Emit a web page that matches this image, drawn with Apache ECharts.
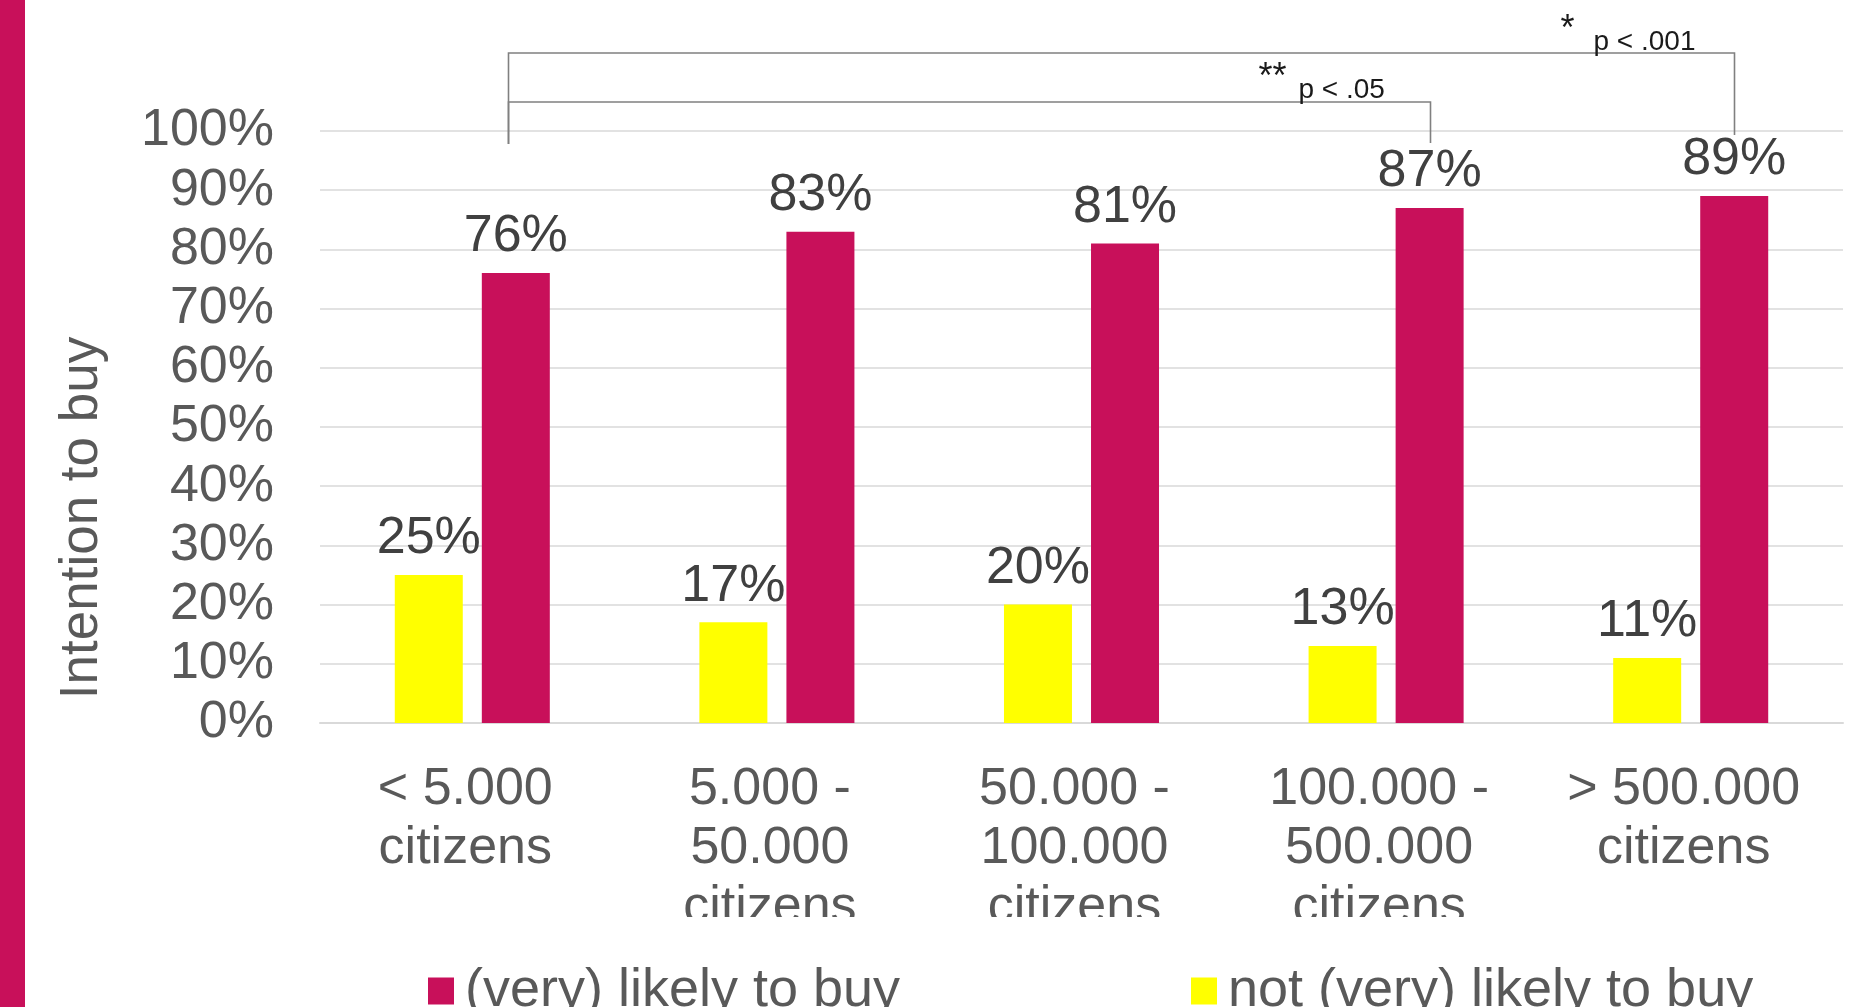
<!DOCTYPE html>
<html>
<head>
<meta charset="utf-8">
<title>Intention to buy by municipality size</title>
<script src="https://cdn.jsdelivr.net/npm/echarts@6/dist/echarts.min.js"></script>
<style>
  html, body { margin: 0; padding: 0; background: #ffffff; }
  #chart { width: 1873px; height: 1007px; }
</style>
</head>
<body>
<div id="chart"></div>
<script>
// Municipality size classes
const categories = [
  '< 5.000\ncitizens',
  '5.000 -\n50.000\ncitizens',
  '50.000 -\n100.000\ncitizens',
  '100.000 -\n500.000\ncitizens',
  '> 500.000\ncitizens'
];
// Share of respondents (%)
const likelyToBuy = [76, 83, 81, 87, 89];
const notLikelyToBuy = [25, 17, 20, 13, 11];
const seriesNames = ['not (very) likely to buy', '(very) likely to buy'];

// Y axis ticks
const yMin = 0;
const yMax = 100;
const yStep = 10;

// Significance brackets: [from category, to category, stars, p-value text]
const brackets = [
  { from: 0, to: 4, stars: '*', p: 'p < .001' },
  { from: 0, to: 3, stars: '**', p: 'p < .05' }
];

const MAGENTA = '#C8105A';
const YELLOW = '#FFFF00';
const FONT = '"Liberation Sans", Arial, sans-serif';

const chart = echarts.init(document.getElementById('chart'), null, { renderer: 'canvas' });

const barLabel = {
  show: true,
  position: 'top',
  distance: 10,
  formatter: '{c}%',
  fontFamily: FONT,
  fontSize: 52,
  color: '#404040'
};

const legendText = { fontFamily: FONT, fontSize: 54, color: '#595959', lineHeight: 54, padding: [0, 0, 0, 6] };

chart.setOption({
  animation: false,
  backgroundColor: '#ffffff',
  textStyle: { fontFamily: FONT },
  grid: { left: 320, right: 30, top: 131, bottom: 284, containLabel: false },
  legend: [
    {
      data: [seriesNames[1]],
      left: 428, top: 964, padding: 0,
      itemWidth: 26, itemHeight: 27,
      icon: 'rect',
      textStyle: legendText
    },
    {
      data: [seriesNames[0]],
      left: 1191, top: 964, padding: 0,
      itemWidth: 26, itemHeight: 27,
      icon: 'rect',
      textStyle: legendText
    }
  ],
  xAxis: {
    type: 'category',
    data: categories,
    axisLine: { show: true, lineStyle: { color: '#D9D9D9', width: 2 } },
    axisTick: { show: false },
    axisLabel: {
      interval: 0,
      margin: 37,
      fontFamily: FONT,
      fontSize: 52,
      lineHeight: 59,
      color: '#595959',
      padding: [0, 14, 0, 0]
    }
  },
  yAxis: {
    type: 'value',
    min: yMin,
    max: yMax,
    interval: yStep,
    axisLine: { show: false },
    axisTick: { show: false },
    splitLine: { lineStyle: { color: '#D9D9D9', width: 1.5 } },
    axisLabel: {
      margin: 46,
      formatter: '{value}%',
      fontFamily: FONT,
      fontSize: 52,
      color: '#595959',
      padding: [8, 0, 0, 0]
    }
  },
  series: [
    {
      name: seriesNames[0],
      type: 'bar',
      data: notLikelyToBuy,
      barWidth: 68,
      barGap: '28%',
      itemStyle: { color: YELLOW },
      label: barLabel
    },
    {
      name: seriesNames[1],
      type: 'bar',
      data: likelyToBuy,
      barWidth: 68,
      barGap: '28%',
      itemStyle: { color: MAGENTA },
      label: barLabel
    }
  ]
});

// Bracket anchors come from the laid-out "(very) likely to buy" bars
const likelyData = chart.getModel().getSeriesByIndex(1).getData();
function barCenter(i) {
  const l = likelyData.getItemLayout(i);
  return l.x + l.width / 2;
}

const lineStyle = { stroke: '#808080', lineWidth: 1.6 };
const elements = [
  // Accent stripe on the left edge
  { type: 'rect', z: 100, shape: { x: 0, y: 0, width: 25, height: 1007 }, style: { fill: MAGENTA } },
  // Y axis title
  {
    type: 'text', z: 100, x: 82, y: 518, rotation: Math.PI / 2,
    style: { text: 'Intention to buy', fontFamily: FONT, fontSize: 53, fill: '#595959', align: 'center', verticalAlign: 'middle' }
  },
  // Cut-off band below the category labels
  { type: 'rect', z: 100, shape: { x: 26, y: 917, width: 1847, height: 44 }, style: { fill: '#ffffff' } }
];

const bracketGeom = [
  { top: 53, leftBottom: 144, rightBottom: 135, pDx: -141, pBase: 56, starDx: -174, starTop: 12 },
  { top: 102, leftBottom: 144, rightBottom: 143, pDx: -132, pBase: 104, starDx: -172, starTop: 60 }
];

brackets.forEach(function (b, k) {
  const g = bracketGeom[k];
  const x1 = Math.round(barCenter(b.from)) - 8 + 0.5;
  const x2 = Math.round(barCenter(b.to)) + 0.5;
  elements.push({
    type: 'polyline', z: 100,
    shape: { points: [[x1, g.leftBottom], [x1, g.top], [x2, g.top], [x2, g.rightBottom]] },
    style: Object.assign({ fill: null }, lineStyle)
  });
  elements.push({
    type: 'text', z: 100, x: x2 + g.pDx, y: g.pBase,
    style: { text: b.p, fontFamily: FONT, fontSize: 28, fill: '#1a1a1a', align: 'left', verticalAlign: 'bottom' }
  });
  elements.push({
    type: 'text', z: 100, x: x2 + g.starDx, y: g.starTop,
    style: { text: b.stars, fontFamily: FONT, fontSize: 36, fill: '#1a1a1a', align: 'left', verticalAlign: 'top' }
  });
});

chart.setOption({ graphic: { elements: elements } });
</script>
</body>
</html>
